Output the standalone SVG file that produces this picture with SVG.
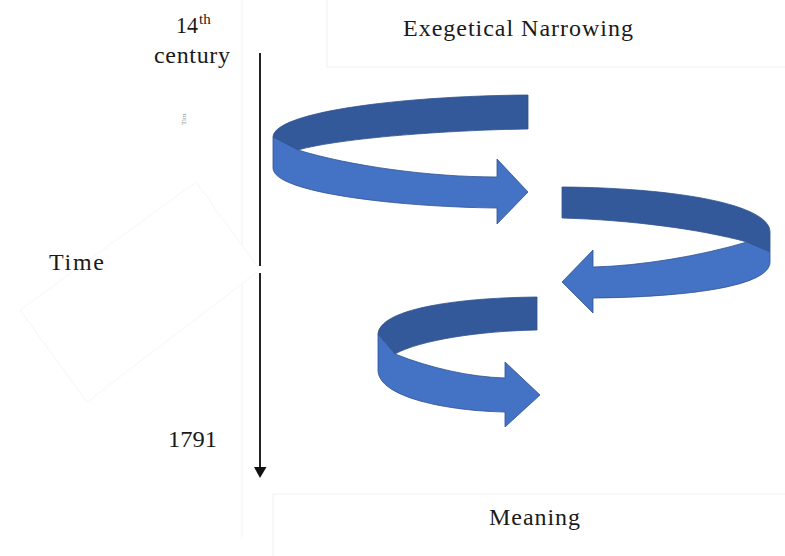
<svg xmlns="http://www.w3.org/2000/svg" width="785" height="556" viewBox="0 0 785 556">
<style>
text{font-family:"Liberation Serif","Times New Roman",serif;fill:#1a1a1a;font-size:24px}
.faint{fill:none;stroke:#f2f2f2;stroke-width:1}
.back{fill:#34599A;stroke:#2F528F;stroke-width:0.8;stroke-linejoin:round}
.front{fill:#4472C4;stroke:#2F528F;stroke-width:0.8;stroke-linejoin:round}
.axis{stroke:#222;stroke-width:2;fill:none}
</style>
<rect width="785" height="556" fill="#fff"/>
<g id="faint-boxes">
<rect class="faint" x="327" y="-1" width="460" height="68"/>
<rect class="faint" x="273" y="494" width="514" height="64"/>
<line class="faint" x1="242" y1="0" x2="242" y2="537"/>
<polygon points="20,310 196,182 260,270 87,402" fill="#fff" stroke="#f6f6f6" stroke-width="1"/>
</g>
<g id="connectors">
<line class="axis" x1="260" y1="53" x2="260" y2="266"/>
<line class="axis" x1="260" y1="273" x2="260" y2="468"/>
<polygon points="254,467 266.5,467 260,478" fill="#111"/>
</g>
<g id="arrow-1">
<path class="back" d="M528,95 L528,129 C450,130 340,138 298,150 L273,137 C274,112 400,96 528,95 Z"/>
<path class="front" d="M273,137 L298,150 C350,166 430,177 497,177 L497,159 L528,192 L497,224 L497,208 C400,207 273,193 273,168 Z"/>
</g>
<g id="arrow-2">
<path class="back" d="M562,187 C680,188 770,205 770,232 L770,252 L747,242 C700,229 630,220 562,218 Z"/>
<path class="front" d="M770,252 L747,242 C700,256 640,266 593,267 L593,250 L562,282 L593,313 L593,298 C690,297 770,286 770,262 Z"/>
</g>
<g id="arrow-3">
<path class="back" d="M537,297 L537,330 C480,331 420,340 395,354 L378,334 C380,310 450,298 537,297 Z"/>
<path class="front" d="M378,334 L395,354 C430,368 470,377 505,378 L505,362 L540,395 L505,427 L505,412 C450,411 378,398 378,370 Z"/>
</g>
<g id="label-14th">
<text x="176" y="33" textLength="22" lengthAdjust="spacingAndGlyphs">14</text>
<text x="199" y="24" style="font-size:15px">th</text>
</g>
<g id="label-century"><text x="154" y="63" textLength="76" lengthAdjust="spacing">century</text></g>
<g id="label-tim"><text transform="translate(186,125) rotate(-90)" style="font-size:7px;fill:#999">Tim</text></g>
<g id="label-time"><text x="49" y="270" textLength="55" lengthAdjust="spacing">Time</text></g>
<g id="label-1791"><text x="168" y="447" textLength="49" lengthAdjust="spacingAndGlyphs">1791</text></g>
<g id="label-exegetical"><text x="403" y="36" textLength="230" lengthAdjust="spacing">Exegetical Narrowing</text></g>
<g id="label-meaning"><text x="489" y="525" textLength="91" lengthAdjust="spacing">Meaning</text></g>
</svg>
